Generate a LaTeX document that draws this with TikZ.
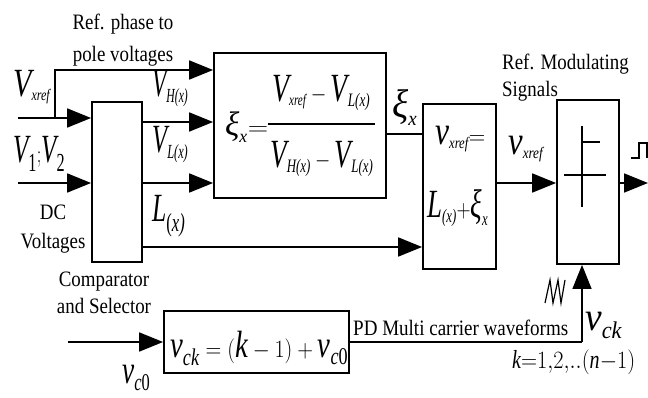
\documentclass[tikz,border=0pt]{standalone}
\usepackage{fontspec}
\setmainfont{Liberation Serif}[FakeStretch=0.86]
\usepackage{amsmath}
\usepackage{graphicx}
\usetikzlibrary{arrows.meta}
\DeclareMathSizes{40}{40}{16}{12}
\DeclareMathSizes{38}{38}{16}{12}
\DeclareMathSizes{34}{34}{15}{11}
\DeclareMathSizes{26}{26}{13}{10}
\newcommand\I[1]{\text{\itshape #1}}
\newcommand\xii{\text{\itshape ξ}}
\newcommand\bigsub[1]{\text{\fontsize{26}{26}\selectfont #1}}
\newcommand\sz[2]{\text{\fontsize{#1}{#1}\selectfont\itshape #2}}
\newcommand\cz{\text{\fontsize{24}{24}\selectfont\itshape c\upshape 0}}
\tikzset{
  blk/.style={draw, line width=1.8pt, inner sep=0pt},
  wire/.style={line width=1.8pt},
  arr/.style={wire, -{Triangle[length=24pt,width=19pt]}},
  txt/.style={inner sep=0pt, font=\fontsize{22}{26}\selectfont},
  mth/.style={inner sep=0pt, anchor=base west, font=\fontsize{40}{48}\selectfont},
}
\begin{document}
\begin{tikzpicture}[x=1pt,y=-1pt]
\useasboundingbox (0,0) rectangle (648,398);
% blocks
\node[blk, minimum width=50pt, minimum height=160pt] (cs) at (117,182) {};
\node[blk, minimum width=172pt, minimum height=145pt] (form) at (300,125.5) {};
\node[blk, minimum width=73pt, minimum height=165pt] (vx) at (459.5,186.5) {};
\node[blk, minimum width=62pt, minimum height=164pt] (cmp) at (588,182) {};
\node[blk, minimum width=185pt, minimum height=62pt] (car) at (256.5,342) {};
% coordinates
\coordinate (vin) at (18,118);
\coordinate (br) at (55,118);
\coordinate (tp) at (55,70);
\coordinate (vdc) at (18,183);
\coordinate (hy) at (0,122);
\coordinate (ly) at (0,247);
\coordinate (xy) at (0,134);
\coordinate (cin) at (68,342);
\coordinate (out) at (648,183);
\coordinate (cor) at (582,342);
% connectors
\draw[arr] (vin) -- (vin -| cs.west);
\draw[arr] (br) -- (tp) -- (tp -| form.west);
\draw[arr] (vdc) -- (vdc -| cs.west);
\draw[arr] (hy -| cs.east) -- (hy -| form.west);
\draw[arr] (vdc -| cs.east) -- (vdc -| form.west);
\draw[arr] (ly -| cs.east) -- (ly -| vx.west);
\draw[wire] (xy -| form.east) -- (xy -| vx.west);
\draw[arr] (vdc -| vx.east) -- (vdc -| cmp.west);
\draw[arr] (vdc -| cmp.east) -- (out);
\draw[arr] (cin) -- (car.west);
\draw[wire] (car.east) -- (cor);
\draw[arr, line width=1.3pt] (cor) -- (cor |- cmp.south);
% comparator symbol
\draw[line width=1.3pt] (582,126) -- (582,207);
\draw[line width=2pt] (564,175) -- (606,175);
\draw[line width=2.5pt] (582,142) -- (600,142);
% pulse
\draw[line width=1.5pt] (631,158) -- (639,158) -- (639,143) -- (647,143) -- (647,158);
% carrier zigzag
\draw[line width=1.2pt] (545,303) -- (550,280) -- (553,303) -- (558,280) -- (561,303) -- (565,280);
% fraction bar
\draw[line width=1.3pt] (268,124) -- (375,124);
% texts
\node[txt, anchor=base] (rp1) at (123,30) {Ref. phase to};
\node[txt, anchor=base] (rp2) at (123,62) {pole voltages};
\node[txt, anchor=base] (dc1) at (53,220) {DC};
\node[txt, anchor=base] (dc2) at (53,248) {Voltages};
\node[txt, anchor=base] (cs1) at (104,286) {Comparator};
\node[txt, anchor=base] (cs2) at (104,313) {and Selector};
\node[txt, anchor=base west] (rm1) at (502,70) {Ref. Modulating};
\node[txt, anchor=base west] (rm2) at (502,97) {Signals};
\node[txt, anchor=base west] (pd) at (353,335) {\resizebox{215pt}{\height}{PD Multi carrier waveforms}};
% math labels
\node[mth] (lvx) at (13,97) {\resizebox{37pt}{\height}{$\I{V}_{\I{xref}}$}};
\node[mth] (lv12) at (13,163) {\resizebox{52pt}{\height}{$\I{V}_{\bigsub{1}}{;}\I{V}_{\bigsub{2}}$}};
\node[mth] (lvh) at (152,97) {\resizebox{36pt}{\height}{$\I{V}_{\sz{20}{H}\sz{20}{(x)}}$}};
\node[mth] (lvl) at (152,153) {\resizebox{36pt}{\height}{$\I{V}_{\sz{20}{L}\sz{20}{(x)}}$}};
\node[mth] (ll) at (152,222) {\resizebox{33pt}{\height}{$\I{L}_{\bigsub{(\itshape x)}}$}};
\node[mth, font=\fontsize{34}{40}\selectfont] (fxi) at (225,136) {\resizebox{43pt}{\height}{$\xii_{\sz{18}{x}}{=}$}};
\node[mth] (fnum) at (272,102) {\resizebox{98pt}{\height}{$\I{V}_{\I{xref}}-\I{V}_{\sz{19}{L(x)}}$}};
\node[mth] (fden) at (270,168) {\resizebox{103pt}{\height}{$\I{V}_{\sz{19}{H(x)}}-\I{V}_{\sz{19}{L(x)}}$}};
\node[mth] (lxi) at (392,118) {\resizebox{25pt}{\height}{$\xii_{\sz{20}{x}}$}};
\node[mth] (vx1) at (435,145) {\resizebox{50pt}{\height}{$\I{v}_{\I{xref}}{=}$}};
\node[mth] (vx2) at (427,218) {\resizebox{61pt}{\height}{$\I{L}_{\sz{19}{(x)}}{+}\xii_{\sz{19}{x}}$}};
\node[mth] (lvxr) at (508,155) {\resizebox{35pt}{\height}{$\I{v}_{\I{xref}}$}};
\node[mth] (lvck) at (585,330) {\resizebox{37pt}{\height}{$\I{v}_{\sz{24}{ck}}$}};
\node[mth, font=\fontsize{26}{30}\selectfont] (lk) at (512,368) {\resizebox{123pt}{\height}{$\I{k}{=}1{,}2{,}..(\I{n}{-}1)$}};
\node[mth] (lvc0) at (122,383) {\resizebox{28pt}{\height}{$\I{v}_{\cz}$}};
\node[mth, font=\fontsize{38}{46}\selectfont] (fck) at (170,357) {\resizebox{178pt}{\height}{$\I{v}_{\sz{24}{ck}}=(\I{k}-1)+\I{v}_{\cz}$}};
\end{tikzpicture}
\end{document}
